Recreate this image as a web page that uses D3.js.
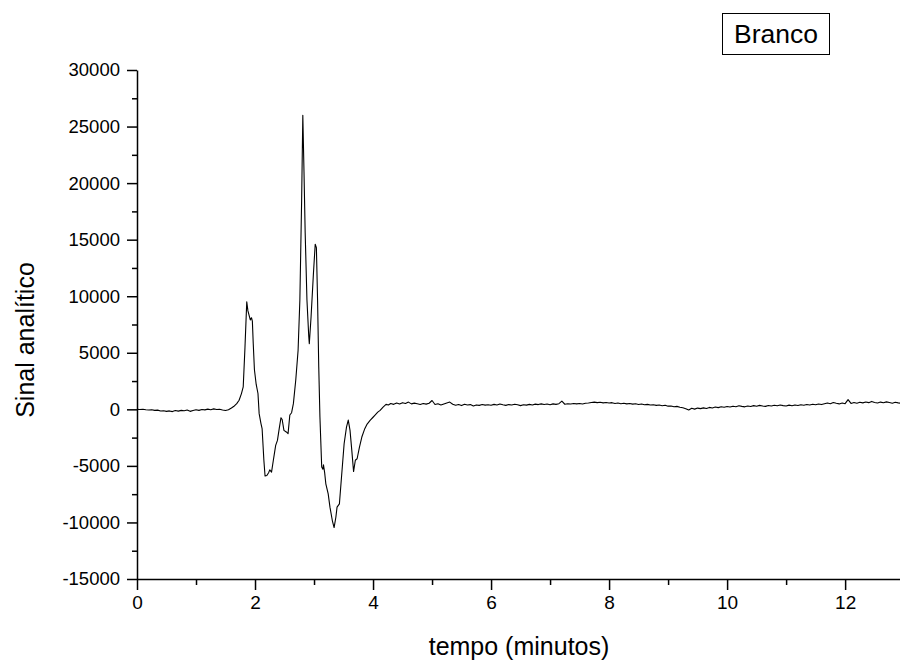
<!DOCTYPE html>
<html>
<head>
<meta charset="utf-8">
<script src="https://cdn.jsdelivr.net/npm/d3@7"></script>
<style>
  html, body { margin: 0; padding: 0; background: #fff; }
  svg { display: block; font-family: "Liberation Sans", Arial, Helvetica, sans-serif; }
</style>
</head>
<body>
<div id="chart"></div>
<script>
// tempo (min) e sinal analítico
const tempo = [
  0, 0.05, 0.1, 0.15, 0.2, 0.25, 0.3, 0.35, 0.4, 0.45, 0.5, 0.55, 0.6, 0.65, 0.7, 0.75, 0.8, 0.85, 0.9, 0.95,
  1.0, 1.05, 1.1, 1.15, 1.2, 1.25, 1.3, 1.35, 1.4, 1.45, 1.5, 1.55, 1.6, 1.65, 1.69, 1.73, 1.77, 1.8, 1.83, 1.86,
  1.88, 1.9, 1.92, 1.94, 1.955, 1.97, 1.99, 2.02, 2.05, 2.07, 2.1, 2.12, 2.15, 2.17, 2.2, 2.23, 2.25, 2.28, 2.31, 2.35,
  2.38, 2.41, 2.44, 2.46, 2.49, 2.53, 2.56, 2.59, 2.62, 2.65, 2.69, 2.73, 2.76, 2.79, 2.81, 2.83, 2.85, 2.88, 2.91, 2.92,
  2.95, 2.99, 3.02, 3.04, 3.06, 3.08, 3.1, 3.13, 3.15, 3.16, 3.18, 3.2, 3.24, 3.27, 3.31, 3.34, 3.37, 3.39, 3.43, 3.47,
  3.51, 3.55, 3.58, 3.61, 3.64, 3.67, 3.7, 3.73, 3.77, 3.81, 3.86, 3.9, 3.95, 4.0, 4.03, 4.08, 4.12, 4.17, 4.22, 4.26,
  4.3, 4.35, 4.4, 4.45, 4.5, 4.55, 4.6, 4.65, 4.7, 4.75, 4.8, 4.85, 4.9, 4.95, 5.0, 5.05, 5.1, 5.15, 5.2, 5.25,
  5.3, 5.35, 5.4, 5.45, 5.5, 5.55, 5.6, 5.65, 5.7, 5.75, 5.8, 5.85, 5.9, 5.95, 6.0, 6.05, 6.1, 6.15, 6.2, 6.25,
  6.3, 6.35, 6.4, 6.45, 6.5, 6.55, 6.6, 6.65, 6.7, 6.75, 6.8, 6.85, 6.9, 6.95, 7.0, 7.05, 7.1, 7.15, 7.2, 7.25,
  7.3, 7.35, 7.4, 7.45, 7.5, 7.55, 7.6, 7.65, 7.7, 7.75, 7.8, 7.85, 7.9, 7.95, 8.0, 8.05, 8.1, 8.15, 8.2, 8.25,
  8.3, 8.35, 8.4, 8.45, 8.5, 8.55, 8.6, 8.65, 8.7, 8.75, 8.8, 8.85, 8.9, 8.95, 9.0, 9.05, 9.1, 9.15, 9.2, 9.25,
  9.3, 9.35, 9.4, 9.45, 9.5, 9.55, 9.6, 9.65, 9.7, 9.75, 9.8, 9.85, 9.9, 9.95, 10.0, 10.05, 10.1, 10.15, 10.2, 10.25,
  10.3, 10.35, 10.4, 10.45, 10.5, 10.55, 10.6, 10.65, 10.7, 10.75, 10.8, 10.85, 10.9, 10.95, 11.0, 11.05, 11.1, 11.15, 11.2, 11.25,
  11.3, 11.35, 11.4, 11.45, 11.5, 11.55, 11.6, 11.65, 11.7, 11.75, 11.8, 11.85, 11.9, 11.95, 12.0, 12.05, 12.1, 12.15, 12.2, 12.25,
  12.3, 12.35, 12.4, 12.45, 12.5, 12.55, 12.6, 12.65, 12.7, 12.75, 12.8, 12.85, 12.9, 12.93
];

const sinal = [
  0, -20, 10, -40, -60, -30, -90, -70, -150, -120, -180, -140, -200, -110, -160, -90, -130, -60, -180, -100,
  -40, -90, -10, -50, 20, -30, 40, -20, 10, -60, -110, -40, 120, 300, 500, 800, 1390, 1980, 5500, 9500,
  8700, 8300, 7900, 8100, 7800, 5800, 3500, 2200, 1400, -380, -1240, -1700, -4500, -5900, -5850, -5600, -5350, -5550, -4520, -3190,
  -2750, -1710, -740, -900, -1860, -2000, -2150, -500, -300, 500, 2570, 5230, 9660, 18500, 26000, 21000, 15600, 9660, 6500, 5800,
  8180, 12020, 14600, 14300, 9660, 3750, -680, -5100, -5300, -4900, -5600, -6580, -7470, -8650, -9830, -10450, -9540, -8650, -8360, -5700,
  -3040, -1570, -950, -1860, -3630, -5500, -4500, -4370, -3340, -2450, -1710, -1300, -975, -700, -530, -250, -90, 200, 440, 380,
  520, 440, 560, 470, 590, 520, 640, 480, 550, 500, 430, 520, 460, 540, 780, 430, 500, 380, 470, 560,
  640, 450, 360, 420, 330, 450, 380, 420, 300, 390, 350, 420, 370, 410, 360, 440, 380, 470, 400, 350,
  420, 380, 450, 400, 330, 410, 370, 440, 390, 460, 420, 480, 430, 470, 410, 480, 440, 500, 720, 450,
  500, 470, 520, 480, 510, 470, 540, 560, 610, 640, 590, 620, 570, 600, 560, 590, 520, 560, 500, 540,
  480, 510, 460, 490, 430, 470, 410, 440, 380, 410, 350, 380, 320, 360, 280, 300, 230, 260, 180, 140,
  60, -60, 90, 20, 110, 60, 130, 80, 170, 120, 200, 150, 230, 180, 250, 200, 280, 230, 310, 260,
  220, 300, 250, 330, 280, 350, 300, 260, 340, 290, 360, 310, 380, 330, 290, 370, 320, 390, 340, 410,
  360, 430, 380, 450, 400, 470, 420, 490, 560, 500, 610, 540, 480, 560, 500, 860, 520, 600, 540, 620,
  570, 650, 590, 700, 610, 560, 640, 580, 660, 600, 540, 620, 570, 550
];

const yTicks = [-15000, -10000, -5000, 0, 5000, 10000, 15000, 20000, 25000, 30000];
const xTicks = [0, 2, 4, 6, 8, 10, 12];
const legendLabel = 'Branco';

const width = 900;
const height = 662;
const plot = { left: 137, right: 900, top: 70, bottom: 579 };

const svg = d3.select('#chart')
  .append('svg')
  .attr('width', width)
  .attr('height', height)
  .attr('viewBox', `0 0 ${width} ${height}`);

const x = d3.scaleLinear().domain([0, 12.93]).range([plot.left, plot.right]);
const y = d3.scaleLinear().domain([-15000, 30000]).range([plot.bottom, plot.top]);

const points = tempo.map((t, i) => [t, sinal[i]]);

// curva
svg.append('path')
  .datum(points)
  .attr('fill', 'none')
  .attr('stroke', '#000')
  .attr('stroke-width', 1.1)
  .attr('stroke-linejoin', 'round')
  .attr('d', d3.line().x(d => x(d[0])).y(d => y(d[1])));

// eixo y: marcas menores
svg.append('g')
  .attr('transform', `translate(${plot.left}, 0)`)
  .call(d3.axisLeft(y).tickValues(d3.range(-12500, 30000, 5000)).tickSize(5).tickFormat(''))
  .call(g => g.select('.domain').remove())
  .selectAll('line').attr('stroke-width', 1.5);

const yAxis = svg.append('g')
  .attr('transform', `translate(${plot.left}, 0)`)
  .call(d3.axisLeft(y).tickValues(yTicks).tickSize(10).tickSizeOuter(0).tickPadding(7)
    .tickFormat(d => String(d)));
yAxis.select('.domain').attr('stroke-width', 1.5);
yAxis.selectAll('line').attr('stroke-width', 1.5);
yAxis.selectAll('text')
  .attr('font-size', 18.5)
  .attr('font-family', '"Liberation Sans", Arial, sans-serif')
  .attr('fill', '#000');

// eixo x: marcas menores
svg.append('g')
  .attr('transform', `translate(0, ${plot.bottom})`)
  .call(d3.axisBottom(x).tickValues([1, 3, 5, 7, 9, 11]).tickSize(6).tickFormat(''))
  .call(g => g.select('.domain').remove())
  .selectAll('line').attr('stroke-width', 1.5);

const xAxis = svg.append('g')
  .attr('transform', `translate(0, ${plot.bottom})`)
  .call(d3.axisBottom(x).tickValues(xTicks).tickSize(11).tickSizeOuter(0).tickPadding(6)
    .tickFormat(d => String(d)));
xAxis.select('.domain').attr('stroke-width', 1.5);
xAxis.selectAll('line').attr('stroke-width', 1.5);
xAxis.selectAll('text')
  .attr('font-size', 19)
  .attr('font-family', '"Liberation Sans", Arial, sans-serif')
  .attr('fill', '#000');

// títulos
svg.append('text')
  .attr('x', 519)
  .attr('y', 655)
  .attr('text-anchor', 'middle')
  .attr('font-size', 25)
  .text('tempo (minutos)');

svg.append('text')
  .attr('transform', 'translate(34, 340) rotate(-90)')
  .attr('text-anchor', 'middle')
  .attr('font-size', 25)
  .text('Sinal analítico');

// legenda
svg.append('rect')
  .attr('x', 722.5)
  .attr('y', 13.5)
  .attr('width', 107)
  .attr('height', 41)
  .attr('fill', '#fff')
  .attr('stroke', '#000')
  .attr('stroke-width', 1);

svg.append('text')
  .attr('x', 776)
  .attr('y', 43)
  .attr('text-anchor', 'middle')
  .attr('font-size', 26.5)
  .text(legendLabel);
</script>
</body>
</html>
